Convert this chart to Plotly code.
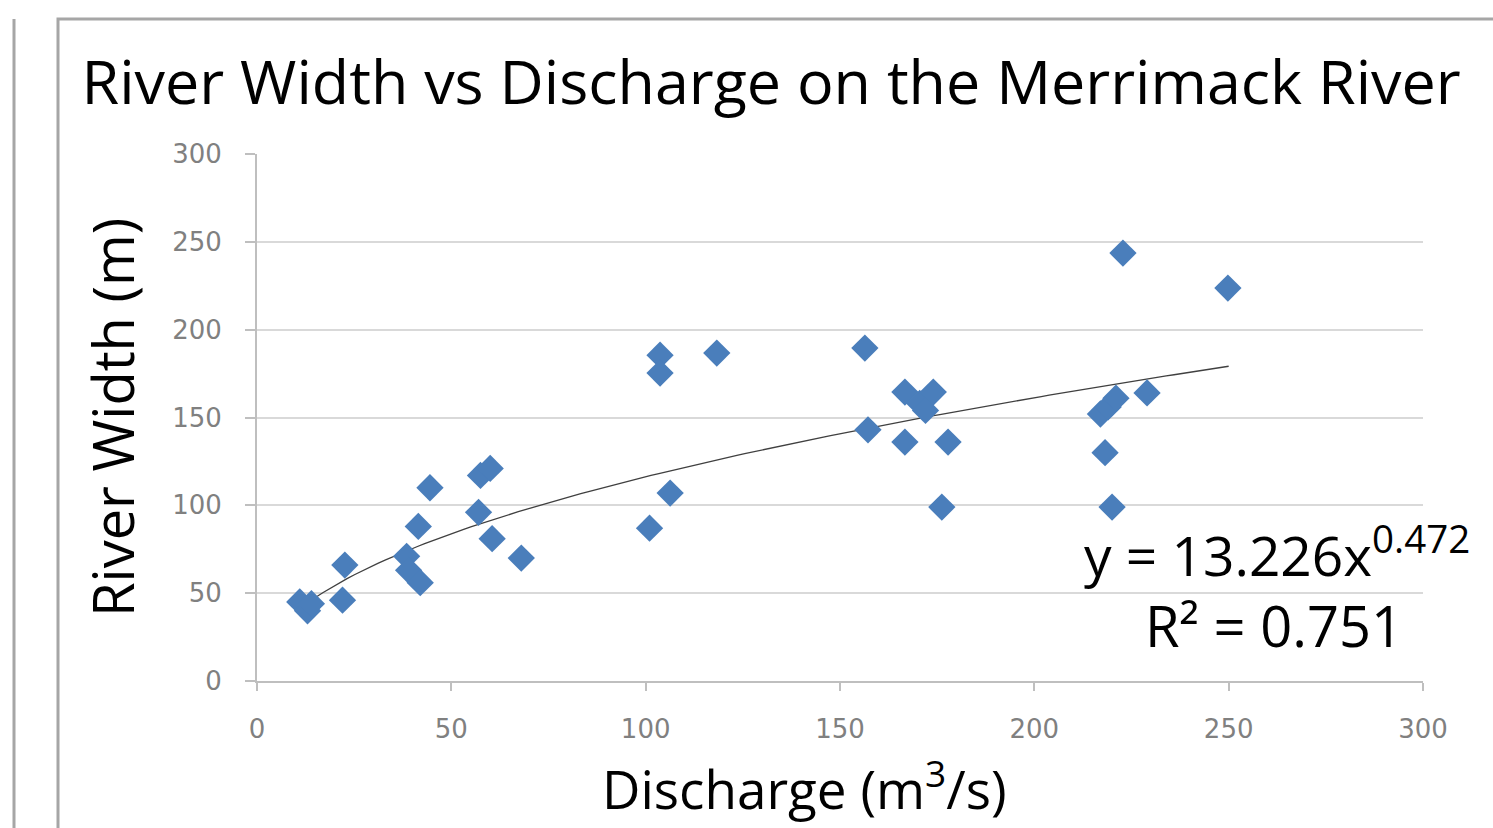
import numpy as np
import plotly.graph_objects as go

# Data
discharge = [11, 13, 14, 22, 22.6, 38.5, 39, 42, 41.5, 44.5, 57, 57.5, 60, 60.5, 68,
             101, 103.7, 103.7, 106.3, 118.3,
             156.4, 157.2, 166.7, 166.7, 170.5, 172, 174, 176.2, 177.8,
             217, 218.2, 219, 220, 221, 222.8, 229, 249.8]
width = [45, 40, 44, 46, 66, 71, 63, 56, 88, 110, 96, 117, 121, 81, 70,
         87, 185.5, 175.3, 107, 186.7,
         189.5, 143, 164.5, 136, 158, 154, 164.5, 99, 136,
         152, 130, 156, 99, 161, 243.6, 164, 223.7]

fit_a, fit_b = 13.226, 0.472
fit_x = np.linspace(11, 250, 120)
fit_y = fit_a * fit_x ** fit_b

x_ticks = [0, 50, 100, 150, 200, 250, 300]
y_ticks = [0, 50, 100, 150, 200, 250, 300]

fig = go.Figure()
fig.add_trace(go.Scatter(x=fit_x, y=fit_y, mode="lines",
                         line=dict(color="#404040", width=1.3), hoverinfo="skip"))
fig.add_trace(go.Scatter(x=discharge, y=width, mode="markers",
                         marker=dict(symbol="diamond", size=21, color="#4a7ebb",
                                     line=dict(width=0))))

L, R, T, B = 257, 70, 154, 147
W, H = 1493, 828
def px(xp):
    return (xp - L) / (W - L - R)
def py(yp):
    return (H - B - yp) / (H - T - B)

tickfont = dict(size=26, color="#808080", family="DejaVu Sans, sans-serif")

fig.update_layout(
    width=W, height=H,
    margin=dict(l=L, r=R, t=T, b=B),
    paper_bgcolor="white", plot_bgcolor="white",
    showlegend=False,
    font=dict(family="Open Sans, sans-serif", color="black"),
    title=dict(text="River Width vs Discharge on the Merrimack River",
               x=0.5165, xanchor="center", y=0.9, yanchor="middle",
               font=dict(size=61, color="black")),
    xaxis=dict(range=[0, 300], tickvals=x_ticks, ticktext=[str(v) for v in x_ticks],
               showgrid=False, zeroline=False, showline=True, linecolor="#bfbfbf", linewidth=2,
               ticks="outside", ticklen=8, tickcolor="#bfbfbf", tickwidth=2,
               ticklabelstandoff=16, tickfont=tickfont),
    yaxis=dict(range=[0, 300], tickvals=y_ticks, ticktext=[str(v) for v in y_ticks],
               showgrid=True, gridcolor="#d9d9d9", gridwidth=2, zeroline=False,
               showline=True, linecolor="#bfbfbf", linewidth=2,
               ticks="outside", ticklen=10, tickcolor="#bfbfbf", tickwidth=2,
               ticklabelstandoff=18, tickfont=tickfont),
    shapes=[
        dict(type="rect", xref="paper", yref="paper", x0=px(58), x1=px(1510), y0=py(19), y1=py(845),
             line=dict(color="#a6a6a6", width=3), fillcolor="rgba(0,0,0,0)", layer="below"),
        dict(type="line", xref="paper", yref="paper", x0=px(14), x1=px(14), y0=py(19), y1=py(845),
             line=dict(color="#a6a6a6", width=3)),
    ],
    annotations=[
        dict(text="River Width (m)", xref="paper", yref="paper", textangle=-90,
             x=px(112), y=py(418), xanchor="center", yanchor="middle", showarrow=False,
             font=dict(size=56, color="black")),
        dict(text="Discharge (m<sup>3</sup>/s)", xref="paper", yref="paper",
             x=px(804), y=py(786), xanchor="center", yanchor="middle", showarrow=False,
             font=dict(size=53, color="black")),
        dict(text="y = 13.226x<sup>0.472</sup>", xref="paper", yref="paper",
             x=px(1472), y=py(552), xanchor="right", yanchor="middle", showarrow=False,
             font=dict(size=55, color="black")),
        dict(text="R² = 0.751", xref="paper", yref="paper",
             x=px(1405), y=py(625), xanchor="right", yanchor="middle", showarrow=False,
             font=dict(size=56, color="black")),
    ],
)

fig.write_html("out.html")
